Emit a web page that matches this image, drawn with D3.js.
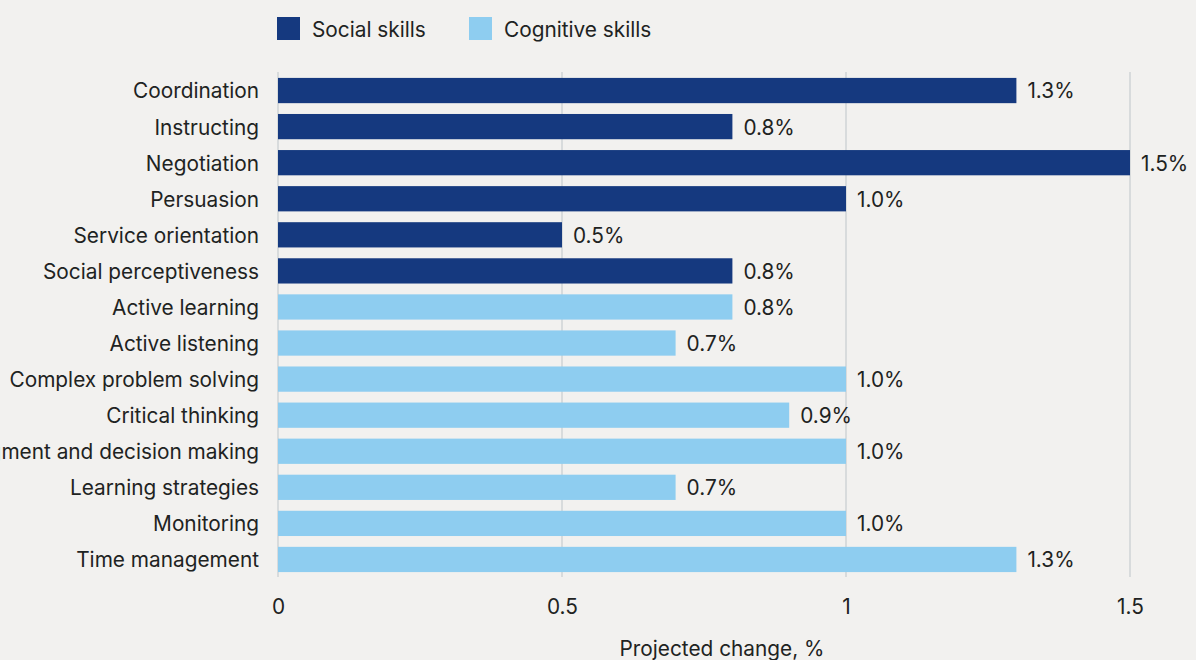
<!DOCTYPE html>
<meta charset="utf-8">
<style>
body { margin: 0; background: #f2f1ef; }
text { font-family: Inter, "Noto Sans", sans-serif; fill: #1e2322; }
.grid line { stroke: #cfd3d6; stroke-width: 1.5; }
</style>
<body>
<script src="https://cdn.jsdelivr.net/npm/d3@7"></script>
<script>
var skills = ["Coordination", "Instructing", "Negotiation", "Persuasion", "Service orientation",
              "Social perceptiveness", "Active learning", "Active listening", "Complex problem solving",
              "Critical thinking", "Judgment and decision making", "Learning strategies", "Monitoring",
              "Time management"];
var groups = ["Social skills", "Social skills", "Social skills", "Social skills", "Social skills",
              "Social skills", "Cognitive skills", "Cognitive skills", "Cognitive skills",
              "Cognitive skills", "Cognitive skills", "Cognitive skills", "Cognitive skills",
              "Cognitive skills"];
var change = [1.3, 0.8, 1.5, 1.0, 0.5, 0.8, 0.8, 0.7, 1.0, 0.9, 1.0, 0.7, 1.0, 1.3];
var ticks = [0, 0.5, 1, 1.5];
var legendItems = ["Social skills", "Cognitive skills"];

var width = 1196, height = 660;
var fs = "20.8px";

var svg = d3.select("body").append("svg")
    .attr("width", width)
    .attr("height", height);

var x = d3.scaleLinear().domain([0, 1.5]).range([278, 1130]);
var y = d3.scaleBand().domain(skills).range([72.5, 577.5]).paddingInner(0.3).paddingOuter(0.15);
var color = d3.scaleOrdinal().domain(legendItems).range(["#15397f", "#8ecdf0"]);

// vertical grid lines
svg.append("g").attr("class", "grid")
  .selectAll("line")
  .data(ticks)
  .enter().append("line")
    .attr("x1", d => x(d)).attr("x2", d => x(d))
    .attr("y1", 72).attr("y2", 577);

// bars
svg.selectAll(".bar")
    .data(skills)
  .enter().append("rect")
    .attr("class", "bar")
    .attr("x", x(0))
    .attr("y", d => y(d))
    .attr("width", (d, i) => x(change[i]) - x(0))
    .attr("height", y.bandwidth())
    .attr("fill", (d, i) => color(groups[i]));

// value labels
svg.selectAll(".val")
    .data(skills)
  .enter().append("text")
    .attr("class", "val")
    .attr("x", (d, i) => x(change[i]) + 11)
    .attr("y", d => y(d) + y.bandwidth() / 2)
    .attr("dy", "0.38em")
    .style("font-size", fs)
    .text((d, i) => change[i].toFixed(1) + "%");

// category labels
svg.selectAll(".cat")
    .data(skills)
  .enter().append("text")
    .attr("class", "cat")
    .attr("x", 259)
    .attr("y", d => y(d) + y.bandwidth() / 2)
    .attr("dy", "0.38em")
    .attr("text-anchor", "end")
    .style("font-size", fs)
    .text(d => d);

// x axis
var xAxis = svg.append("g")
    .attr("transform", "translate(0,577)")
    .call(d3.axisBottom(x).tickValues(ticks).tickFormat(d3.format("")).tickSize(0).tickPadding(22));
xAxis.select(".domain").remove();
xAxis.selectAll("text").style("font-size", fs).style("font-family", "Inter, sans-serif").attr("fill", "#1e2322");

svg.append("text")
    .attr("x", 722)
    .attr("y", 656)
    .attr("text-anchor", "middle")
    .style("font-size", fs)
    .text("Projected change, %");

// legend
var lx = [277, 469];
var legend = svg.selectAll(".legend")
    .data(legendItems)
  .enter().append("g")
    .attr("transform", (d, i) => "translate(" + lx[i] + ",17)");
legend.append("rect")
    .attr("width", 23).attr("height", 23)
    .attr("fill", d => color(d));
legend.append("text")
    .attr("x", 35).attr("y", 12)
    .attr("dy", "0.38em")
    .style("font-size", fs)
    .text(d => d);
</script>
</body>
